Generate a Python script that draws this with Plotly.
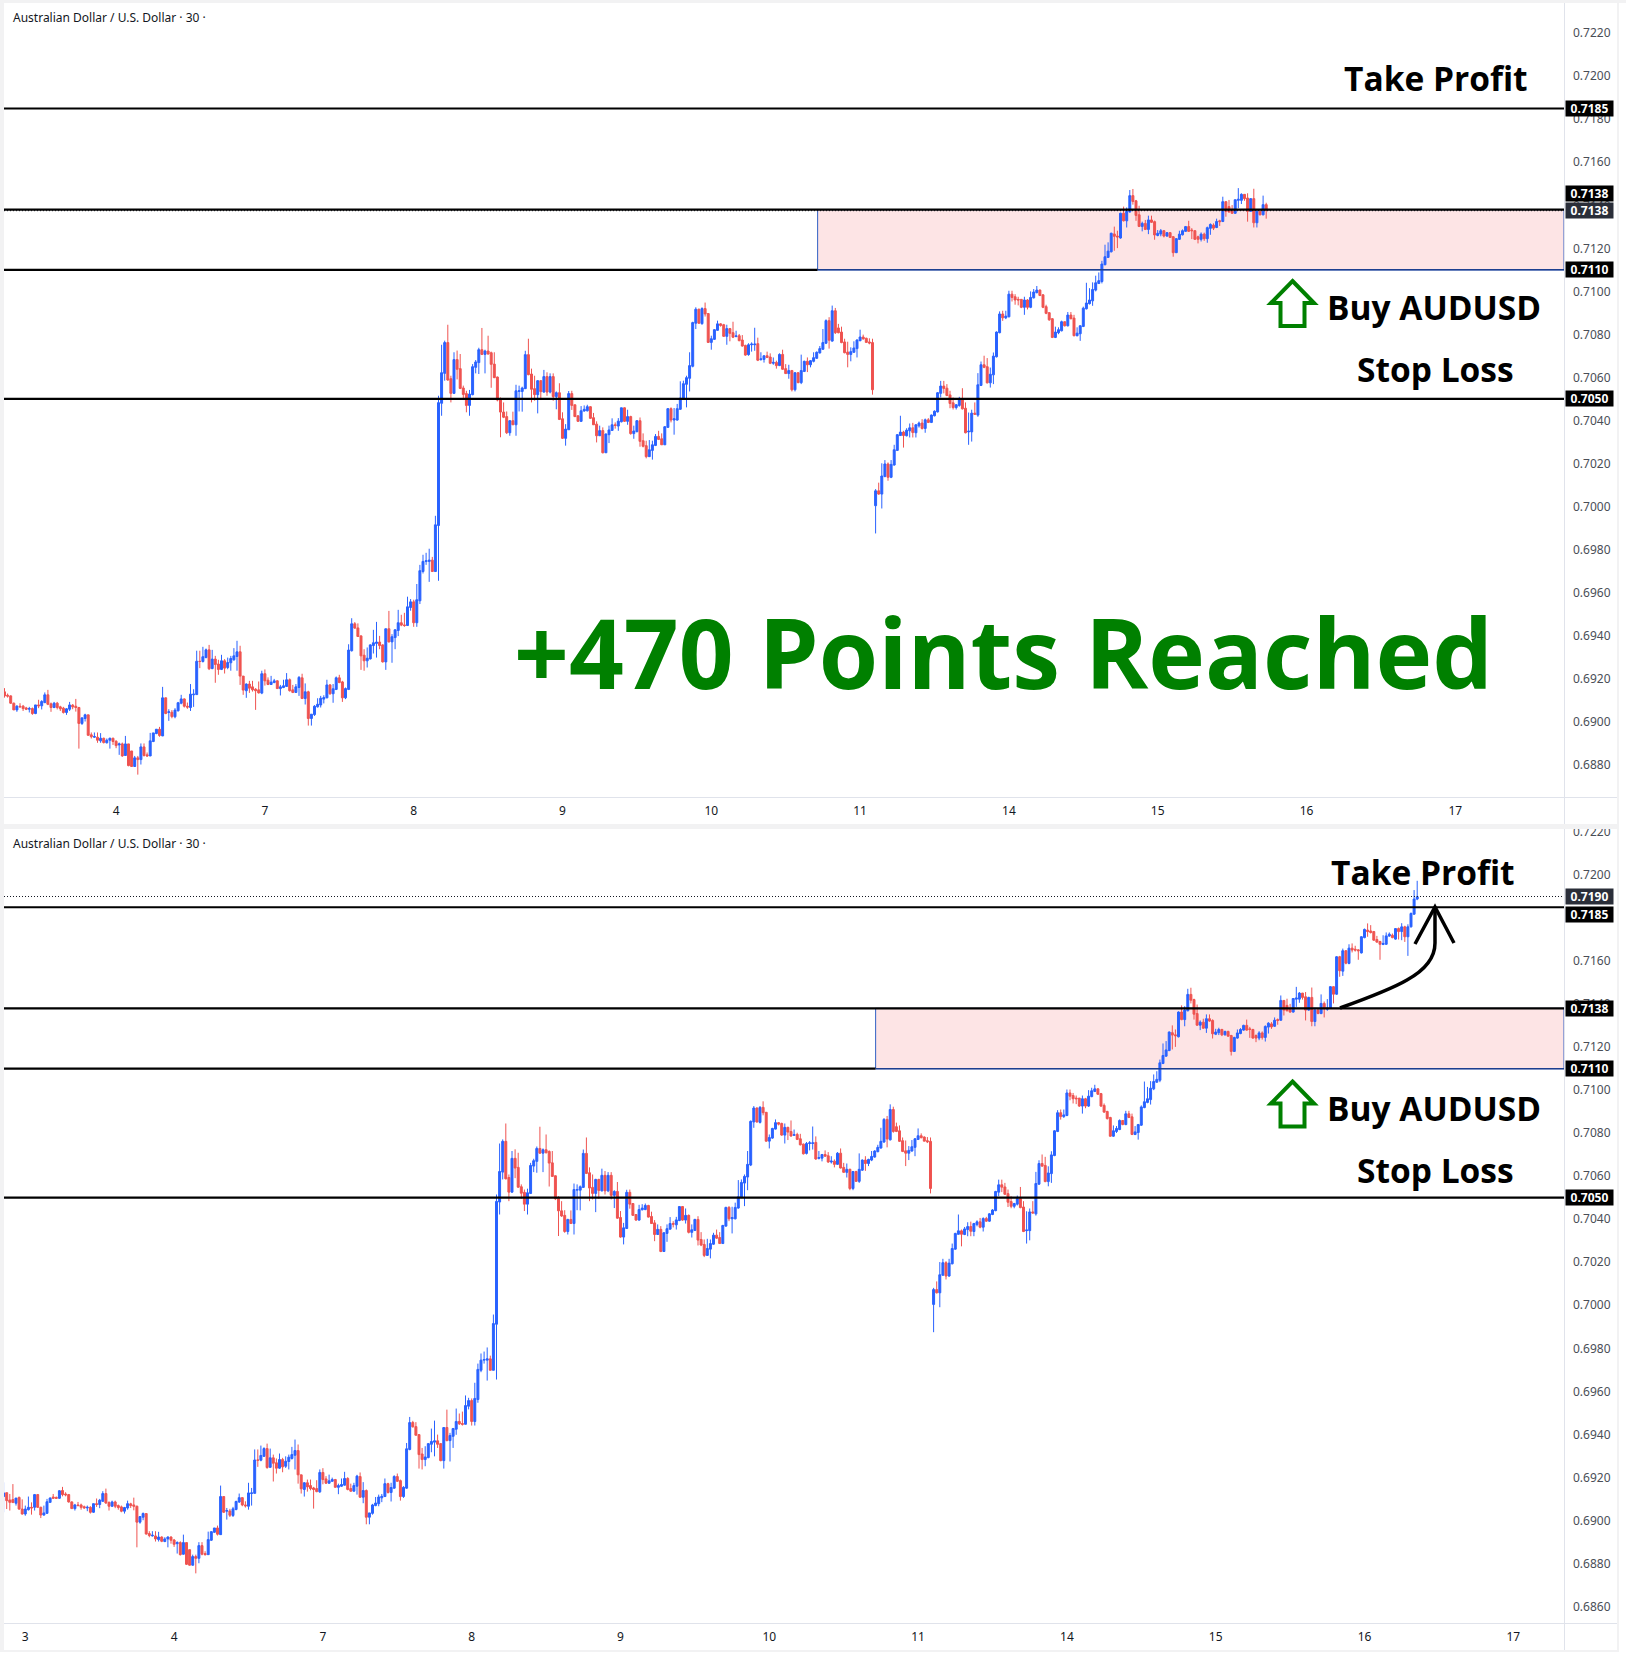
import plotly.graph_objects as go

W, H = 1626, 1655

# AUD/USD 30-minute bars, quoted in points (1 point = 0.00001)
first_bar = -19
opens = [
    69111,69129,69095,69097,69080,69107,69053,69030,69050,69061,69061,69120,69061,69025,69033,69084,69109,69107,69103,
    69139,69123,69120,69086,69055,69072,69072,69064,69058,69061,69038,69078,69074,69089,69125,69083,
    69066,69086,69069,69063,69043,69058,69077,69072,69066,68992,69015,69032,68939,68928,68928,68911,
    68923,68902,68914,68923,68909,68892,68897,68843,68897,68864,68792,68832,68824,68883,68846,68841,
    68908,68945,68965,68934,69111,69043,69044,69023,69051,69086,69106,69072,69066,69125,69126,69281,
    69280,69298,69334,69247,69291,69268,69243,69283,69252,69274,69288,69303,69325,69212,69144,69175,
    69162,69151,69148,69133,69223,69193,69173,69182,69190,69154,69159,69164,69195,69148,69136,69159,
    69204,69108,69139,69015,69033,69069,69078,69105,69111,69171,69130,69150,69204,69185,69111,69150,
    69330,69455,69436,69399,69309,69283,69292,69354,69364,69370,69357,69278,69432,69371,69391,69424,
    69460,69450,69447,69531,69557,69460,69562,69698,69745,69745,69751,69698,69912,70480,70619,70762,
    70594,70526,70683,70641,70551,70525,70470,70520,70647,70669,70729,70707,70723,70715,70662,70602,
    70498,70439,70418,70343,70399,70380,70535,70535,70548,70706,70616,70548,70520,70585,70532,70604,
    70532,70604,70511,70529,70408,70317,70357,70525,70473,70422,70396,70444,70445,70464,70413,70383,
    70329,70353,70250,70334,70354,70380,70374,70394,70459,70396,70418,70339,70348,70399,70306,70283,
    70232,70261,70284,70326,70315,70287,70368,70455,70402,70402,70452,70501,70568,70596,70652,70852,
    70917,70850,70920,70897,70763,70777,70819,70849,70845,70791,70827,70808,70790,70794,70774,70749,
    70706,70752,70752,70757,70683,70684,70701,70695,70666,70670,70655,70707,70641,70618,70632,70543,
    70622,70576,70628,70675,70659,70675,70689,70714,70731,70759,70864,70769,70910,70830,70811,70765,
    70718,70707,70717,70734,70771,70788,70782,70765,70762,70004,70073,70058,70140,70198,70136,70193,
    70261,70330,70346,70329,70352,70366,70343,70375,70388,70363,70403,70391,70422,70440,70526,70560,
    70550,70519,70482,70460,70470,70496,70457,70347,70347,70434,70425,70563,70659,70650,70575,70612,
    70696,70808,70895,70877,70882,70987,70975,70963,70963,70926,70960,70926,70970,70994,71006,70984,
    70929,70901,70873,70786,70808,70817,70859,70840,70890,70876,70794,70803,70837,70919,70943,70956,
    71006,71037,71046,71124,71158,71184,71267,71257,71248,71363,71328,71369,71445,71421,71356,71302,
    71316,71288,71332,71324,71260,71267,71282,71257,71273,71254,71180,71242,71263,71279,71301,71285,
    71282,71254,71242,71266,71245,71293,71308,71297,71328,71325,71417,71394,71375,71363,71423,71423,
    71451,71434,71372,71431,71319,71372,71356,71403,71376,71381,71481,71446,71620,71553,71648,71589,
    71660,71655,71652,71638,71709,71744,71740,71737,71700,71691,71677,71678,71716,71720,71702,71751,
    71737,71759,71713,71759,71818,71888,
]
highs = [
    69177,69129,69123,69169,69104,69111,69098,69069,69111,69084,69123,69123,69064,69069,69100,69107,69123,69111,69141,
    69156,69131,69123,69089,69077,69086,69078,69069,69069,69066,69078,69102,69100,69136,69148,69089,
    69092,69092,69074,69069,69063,69092,69082,69106,69069,69018,69037,69032,68950,68950,68950,68947,
    68926,68922,68926,68926,68914,68903,68903,68934,68897,68864,68841,68841,68899,68899,68857,68948,
    68948,68965,68976,69162,69112,69058,69054,69063,69092,69125,69108,69089,69175,69151,69330,69330,
    69348,69340,69357,69334,69306,69288,69311,69291,69298,69306,69342,69376,69353,69212,69178,69190,
    69190,69156,69187,69237,69243,69206,69213,69199,69193,69171,69195,69226,69201,69171,69175,69212,
    69223,69178,69144,69035,69077,69109,69120,69123,69195,69175,69175,69210,69218,69190,69159,69360,
    69481,69463,69457,69399,69337,69345,69360,69427,69464,69399,69360,69432,69515,69407,69430,69520,
    69497,69506,69581,69570,69567,69640,69729,69776,69785,69804,69766,69957,70515,70752,70771,70845,
    70608,70717,70725,70709,70562,70538,70542,70662,70681,70738,70830,70729,70794,70720,70717,70604,
    70507,70484,70442,70402,70441,70566,70562,70557,70724,70780,70641,70608,70588,70588,70635,70624,
    70619,70619,70535,70573,70438,70383,70537,70538,70473,70422,70467,70470,70473,70467,70435,70396,
    70376,70368,70340,70376,70410,70391,70411,70459,70461,70450,70422,70376,70402,70414,70340,70306,
    70309,70306,70337,70352,70340,70374,70458,70461,70458,70477,70582,70585,70608,70717,70859,70926,
    70920,70926,70948,70898,70794,70825,70864,70852,70849,70845,70830,70859,70817,70802,70797,70752,
    70759,70763,70831,70785,70717,70701,70720,70712,70693,70678,70712,70729,70662,70659,70635,70624,
    70625,70706,70678,70693,70681,70717,70721,70746,70825,70870,70880,70934,70923,70849,70836,70780,
    70766,70740,70768,70777,70822,70799,70785,70782,70780,70081,70111,70201,70216,70205,70216,70287,
    70337,70422,70352,70364,70386,70389,70383,70395,70406,70409,70411,70428,70447,70532,70584,70584,
    70569,70538,70507,70476,70510,70550,70484,70437,70450,70484,70620,70674,70701,70690,70646,70716,
    70814,70907,70910,70910,71003,71003,70987,70975,70964,70975,70964,71000,71011,71025,71009,70987,
    70938,70904,70876,70836,70833,70864,70860,70904,70904,70891,70833,70843,70929,71040,71015,71042,
    71073,71088,71142,71217,71228,71273,71301,71282,71366,71394,71390,71471,71476,71425,71398,71324,
    71332,71352,71352,71329,71285,71290,71285,71276,71276,71257,71248,71282,71288,71304,71328,71294,
    71285,71259,71274,71273,71301,71316,71316,71338,71333,71440,71418,71425,71401,71426,71480,71456,
    71452,71456,71434,71477,71383,71378,71445,71412,71423,71483,71483,71623,71624,71658,71651,71678,
    71682,71671,71655,71716,71751,71775,71767,71740,71717,71694,71720,71733,71733,71728,71751,71756,
    71776,71764,71771,71826,71930,71973,
]
lows = [
    69038,69053,69046,69083,69069,69049,69027,69022,69046,69027,69046,69058,69011,69022,69030,69083,69101,69100,69100,
    69112,69112,69083,69054,69046,69066,69050,69054,69043,69032,69035,69063,69057,69086,69077,69046,
    69063,69057,69050,69038,69032,69050,69058,69047,68875,68985,69001,68934,68922,68925,68902,68902,
    68899,68899,68875,68892,68877,68846,68837,68841,68793,68790,68790,68754,68801,68838,68837,68840,
    68905,68942,68930,68933,69035,69004,69016,69016,69047,69081,69066,69060,69050,69069,69125,69249,
    69275,69295,69240,69244,69181,69218,69240,69224,69244,69237,69283,69237,69171,69125,69111,69134,
    69140,69055,69131,69128,69168,69170,69171,69179,69153,69122,69156,69162,69140,69133,69134,69120,
    69105,69080,68982,68982,69027,69066,69066,69085,69109,69125,69088,69147,69179,69092,69105,69147,
    69326,69432,69395,69241,69237,69252,69289,69317,69298,69337,69275,69241,69368,69274,69337,69398,
    69444,69441,69446,69516,69441,69441,69547,69689,69729,69650,69698,69698,69655,70422,70585,70585,
    70484,70523,70591,70546,70495,70438,70422,70517,70619,70616,70704,70619,70706,70552,70597,70489,
    70322,70411,70337,70329,70379,70329,70442,70441,70546,70610,70484,70492,70433,70495,70529,70515,
    70526,70492,70452,70402,70314,70283,70356,70449,70416,70393,70393,70441,70442,70408,70379,70298,
    70328,70247,70249,70295,70352,70362,70352,70391,70393,70380,70334,70315,70345,70278,70275,70224,
    70230,70218,70281,70309,70286,70286,70365,70391,70334,70399,70449,70498,70461,70535,70647,70825,
    70849,70845,70883,70760,70729,70774,70817,70836,70788,70752,70768,70783,70787,70768,70743,70701,
    70701,70720,70724,70676,70678,70669,70690,70662,70659,70641,70653,70636,70616,70594,70535,70535,
    70573,70569,70625,70625,70647,70670,70686,70711,70728,70755,70734,70766,70802,70805,70759,70712,
    70647,70675,70714,70693,70768,70776,70762,70754,70520,69875,70055,69991,70136,70120,70132,70190,
    70258,70329,70274,70326,70321,70321,70321,70367,70358,70343,70388,70388,70419,70437,70507,70526,
    70513,70457,70451,70451,70464,70451,70340,70287,70302,70426,70417,70560,70643,70572,70553,70569,
    70693,70805,70863,70871,70879,70953,70938,70935,70922,70891,70916,70922,70967,70991,70978,70922,
    70894,70863,70783,70783,70801,70814,70837,70837,70870,70791,70791,70770,70834,70916,70939,70933,
    71000,71034,71037,71121,71155,71181,71189,71201,71245,71325,71297,71366,71403,71328,71299,71279,
    71285,71266,71318,71240,71256,71256,71251,71254,71248,71161,71178,71239,71260,71276,71276,71243,
    71239,71223,71232,71235,71226,71263,71285,71294,71304,71322,71347,71366,71360,71360,71387,71406,
    71421,71324,71369,71297,71297,71353,71353,71338,71369,71379,71403,71443,71527,71531,71585,71585,
    71640,71644,71606,71635,71706,71713,71728,71694,71685,71606,71674,71675,71713,71706,71699,71700,
    71697,71689,71624,71756,71815,71883,
]
closes = [
    69128,69092,69084,69083,69104,69053,69030,69053,69061,69058,69120,69061,69025,69035,69087,69104,69103,69103,69138,
    69120,69119,69086,69055,69072,69069,69061,69058,69061,69038,69078,69074,69094,69125,69081,69066,
    69086,69066,69060,69043,69060,69078,69069,69066,68992,69018,69032,68937,68930,68931,68914,68923,
    68903,68914,68923,68908,68889,68897,68841,68897,68796,68792,68832,68824,68883,68843,68841,68911,
    68948,68965,68936,69111,69038,69046,69024,69054,69088,69106,69072,69068,69128,69128,69281,69280,
    69302,69334,69246,69291,69266,69243,69283,69249,69275,69294,69306,69325,69212,69147,69175,69156,
    69148,69144,69134,69223,69190,69173,69184,69190,69154,69162,69167,69195,69144,69136,69162,69206,
    69108,69139,69015,69035,69072,69081,69109,69112,69171,69130,69153,69204,69182,69111,69154,69333,
    69455,69435,69396,69306,69283,69295,69357,69367,69370,69354,69278,69432,69371,69395,69427,69460,
    69449,69447,69534,69557,69460,69567,69702,69745,69748,69751,69698,69915,70483,70622,70762,70588,
    70526,70683,70638,70549,70521,70470,70523,70650,70672,70729,70707,70723,70709,70661,70599,70495,
    70439,70415,70343,70399,70380,70538,70538,70551,70706,70613,70545,70520,70585,70534,70604,70532,
    70604,70511,70529,70405,70317,70360,70525,70470,70418,70396,70445,70452,70464,70410,70380,70329,
    70353,70250,70337,70356,70380,70377,70397,70459,70396,70418,70339,70351,70399,70303,70280,70232,
    70264,70287,70326,70312,70287,70371,70455,70402,70408,70455,70504,70571,70599,70655,70855,70917,
    70852,70920,70895,70763,70780,70822,70849,70842,70791,70827,70805,70787,70793,70771,70746,70704,
    70752,70755,70755,70680,70686,70701,70693,70666,70670,70655,70707,70638,70618,70632,70543,70622,
    70576,70632,70675,70659,70678,70692,70717,70734,70762,70864,70773,70910,70808,70808,70762,70715,
    70707,70720,70737,70774,70788,70779,70763,70760,70543,70073,70058,70142,70198,70136,70196,70264,
    70334,70346,70330,70355,70366,70344,70380,70388,70363,70403,70391,70425,70443,70529,70560,70549,
    70516,70479,70460,70473,70496,70454,70343,70350,70434,70429,70566,70659,70647,70575,70615,70699,
    70811,70895,70877,70885,70987,70972,70960,70960,70926,70960,70926,70972,70997,71006,70981,70926,
    70898,70868,70786,70811,70822,70859,70840,70890,70873,70794,70806,70840,70922,70946,70960,71009,
    71040,71050,71127,71161,71187,71270,71256,71253,71363,71328,71372,71445,71418,71353,71302,71316,
    71288,71332,71321,71262,71270,71282,71257,71273,71251,71180,71245,71266,71282,71301,71279,71282,
    71242,71242,71266,71245,71296,71311,71294,71325,71324,71417,71372,71369,71363,71426,71428,71451,
    71431,71372,71431,71319,71372,71356,71403,71378,71381,71481,71446,71620,71555,71648,71590,71660,
    71651,71651,71648,71713,71747,71737,71733,71697,71688,71678,71682,71717,71725,71709,71751,71737,
    71759,71713,71759,71821,71888,71899,
]

assert len(opens) == len(highs) == len(lows) == len(closes)

# Day boundaries on the time axis, as bar numbers
day_bars = [-12, 36, 84, 132, 180, 228, 276, 324, 372, 420, 468]
day_labels = ["3", "4", "7", "8", "9", "10", "11", "14", "15", "16", "17"]
price_ticks = [0.686 + 0.002 * n for n in range(19)]

# Trade levels
take_profit = 0.7185
entry_high = 0.7138
entry_low = 0.7110
stop_loss = 0.7050
zone_start_bar = 262.3
last_top_bar = 407

UP = "#2962FF"
DOWN = "#EF5350"
FRAME = "#f2f2f3"
PANE_LINE = "#e0e3eb"
TEXT = "#131722"
GREEN = "#008000"
LABEL_FONT = "Noto Sans"
HEAD_FONT = "Open Sans"


def fx(px):
    return px / W


def fy(px):
    return 1 - px / H


bars = list(range(first_bar, first_bar + len(opens)))
prices = lambda seq: [v / 100000 for v in seq]


def candles(count, xaxis, yaxis):
    return go.Candlestick(
        x=bars[:count], open=prices(opens[:count]), high=prices(highs[:count]),
        low=prices(lows[:count]), close=prices(closes[:count]),
        xaxis=xaxis, yaxis=yaxis, showlegend=False, hoverinfo="skip",
        whiskerwidth=0,
        increasing=dict(line=dict(color=UP, width=1), fillcolor=UP),
        decreasing=dict(line=dict(color=DOWN, width=1), fillcolor=DOWN),
    )


top_count = last_top_bar - first_bar + 1
fig = go.Figure([candles(top_count, "x", "y"), candles(len(opens), "x2", "y2")])

x_left, x_right = 4, 1564
bar_step = 3.1


def x_axis(yname, origin_px):
    return dict(
        domain=[fx(x_left), fx(x_right)],
        range=[(x_left - origin_px) / bar_step, (x_right - origin_px) / bar_step],
        anchor=yname, tickmode="array", tickvals=day_bars, ticktext=day_labels,
        showgrid=False, zeroline=False, ticks="", showline=False, automargin=False,
        ticklabelstandoff=5, rangeslider=dict(visible=False),
        tickfont=dict(family=LABEL_FONT, size=12, color=TEXT),
    )


def y_axis(pane_top, pane_bottom, xname, high_price, low_price):
    return dict(
        domain=[fy(pane_bottom), fy(pane_top)], range=[low_price, high_price],
        anchor=xname, side="right", tickmode="array", tickvals=price_ticks,
        tickformat=".4f", showgrid=False, zeroline=False, ticks="", showline=False,
        automargin=False, ticklabelstandoff=8,
        tickfont=dict(family=LABEL_FONT, size=12, color="#4a4e57"),
    )


shapes = []


def hline(price, xref, yref, x0, x1, color="black", width=2.2, dash="solid"):
    shapes.append(dict(type="line", xref=xref, yref=yref, x0=x0, x1=x1, y0=price, y1=price,
                       line=dict(color=color, width=width, dash=dash)))


def pane_levels(xref, yref, x_start, x_end, dotted_price):
    # Buy zone, then the level lines across the pane
    shapes.append(dict(type="rect", xref=xref, yref=yref, layer="below",
                       x0=zone_start_bar, x1=x_end, y0=entry_low, y1=entry_high,
                       fillcolor="#fde4e5", line=dict(color="#2f5fc4", width=1)))
    hline(dotted_price, xref, yref, x_start, x_end, color="#131722", width=1, dash="1px,2px")
    hline(take_profit, xref, yref, x_start, x_end)
    hline(entry_high, xref, yref, x_start, x_end)
    hline(entry_low, xref, yref, x_start, zone_start_bar)
    hline(entry_low, xref, yref, zone_start_bar, x_end, color="#1d3f8f", width=1.5)
    hline(stop_loss, xref, yref, x_start, x_end)


top_origin, bottom_origin = 4.5, 62.5
top_x = x_axis("y", top_origin)
bottom_x = x_axis("y2", bottom_origin)
pane_levels("x", "y", top_x["range"][0], top_x["range"][1], 0.71375)
pane_levels("x2", "y2", bottom_x["range"][0], bottom_x["range"][1], 0.7190)


def paper_rect(x0, y0, x1, y1, color):
    shapes.append(dict(type="rect", xref="paper", yref="paper", layer="above",
                       x0=fx(x0), x1=fx(x1), y0=fy(y1), y1=fy(y0),
                       fillcolor=color, line=dict(width=0)))


def paper_path(segments, closed, color, width):
    # Each segment is one path command with its coordinates
    d = ""
    for cmd, coords in segments:
        d += cmd + " ".join(f"{fx(a):.5f},{fy(b):.5f}" for a, b in coords) + " "
    if closed:
        d += "Z"
    shapes.append(dict(type="path", xref="paper", yref="paper", path=d,
                       line=dict(color=color, width=width), fillcolor="rgba(0,0,0,0)"))


def polyline(points):
    return [("M", points[:1])] + [("L", [p]) for p in points[1:]]


# Frame bands and pane separators
paper_rect(0, 0, 1626, 3, FRAME)
paper_rect(0, 0, 4, 1650, FRAME)
paper_rect(0, 824, 1618, 829, FRAME)
paper_rect(0, 1650, 1618, 1652, FRAME)
paper_rect(1617, 0, 1619, 1652, FRAME)
paper_rect(4, 797, 1617, 798, PANE_LINE)
paper_rect(4, 1623, 1617, 1624, PANE_LINE)
paper_rect(1564, 3, 1565, 824, PANE_LINE)
paper_rect(1564, 829, 1565, 1650, PANE_LINE)


def buy_arrow(dy):
    outline = [(1292.5, 281 + dy), (1314, 303 + dy), (1304.5, 303 + dy), (1304.5, 326 + dy),
               (1280.5, 326 + dy), (1280.5, 303 + dy), (1271, 303 + dy)]
    paper_path(polyline(outline), True, GREEN, 4)


buy_arrow(0)
buy_arrow(800.5)

# Hand-drawn target arrow on the lower pane
paper_path([("M", [(1340, 1008)]),
            ("C", [(1365, 999), (1390, 990), (1407, 980)]),
            ("C", [(1425, 970), (1435, 958), (1435, 943)]),
            ("L", [(1435, 907)])], False, "black", 3.5)
paper_path(polyline([(1415, 944), (1435, 907), (1454, 943)]), False, "black", 3.5)

annotations = []


def label(text, x, y, size, color="black", family=HEAD_FONT):
    annotations.append(dict(text=text, xref="paper", yref="paper", x=fx(x), y=fy(y),
                            xanchor="center", yanchor="middle", showarrow=False,
                            font=dict(family=family, size=size, color=color)))


def price_tag(text, price, yref, bg="black", shift=0):
    annotations.append(dict(text=f"<b>{text}</b>", xref="paper", yref=yref, x=fx(1564.5), y=price,
                            xanchor="left", yanchor="middle", yshift=shift, showarrow=False,
                            width=45, height=13, borderpad=1, bgcolor=bg, align="center",
                            font=dict(family=LABEL_FONT, size=12, color="white")))


def header(y):
    annotations.append(dict(text="Australian Dollar / U.S. Dollar · 30 ·", xref="paper", yref="paper",
                            x=fx(11), y=fy(y), xanchor="left", yanchor="middle", showarrow=False,
                            font=dict(family=LABEL_FONT, size=12, color=TEXT)))


header(17.5)
header(843.5)
label("<b>Take Profit</b>", 1436, 78, 33.5)
label("<b>Buy AUDUSD</b>", 1434, 307, 33.5)
label("<b>Stop Loss</b>", 1435, 369, 33.5)
label("<b>Take Profit</b>", 1423, 872, 33.5)
label("<b>Buy AUDUSD</b>", 1434, 1107.5, 33.5)
label("<b>Stop Loss</b>", 1435, 1169.5, 33.5)
label("<b>+470 Points Reached</b>", 1003, 652, 96, color=GREEN)

price_tag("0.7185", take_profit, "y")
price_tag("0.7138", entry_high, "y", shift=16)
price_tag("0.7138", entry_high, "y", bg="#2a2e39", shift=-1)
price_tag("0.7110", entry_low, "y")
price_tag("0.7050", stop_loss, "y")
price_tag("0.7190", 0.7190, "y2", bg="#2a2e39")
price_tag("0.7185", take_profit, "y2", shift=-7)
price_tag("0.7138", entry_high, "y2")
price_tag("0.7110", entry_low, "y2")
price_tag("0.7050", stop_loss, "y2")

fig.update_layout(
    width=W, height=H, margin=dict(l=0, r=0, t=0, b=0, pad=0), autosize=False,
    paper_bgcolor="white", plot_bgcolor="white", showlegend=False, boxgap=0.1,
    xaxis=top_x, xaxis2=bottom_x,
    yaxis=y_axis(3, 797, "x", 0.723403, 0.686501),
    yaxis2=y_axis(829, 1623, "x2", 0.722138, 0.685233),
    shapes=shapes, annotations=annotations,
)

fig.write_html("out.html", config={"displayModeBar": False})
